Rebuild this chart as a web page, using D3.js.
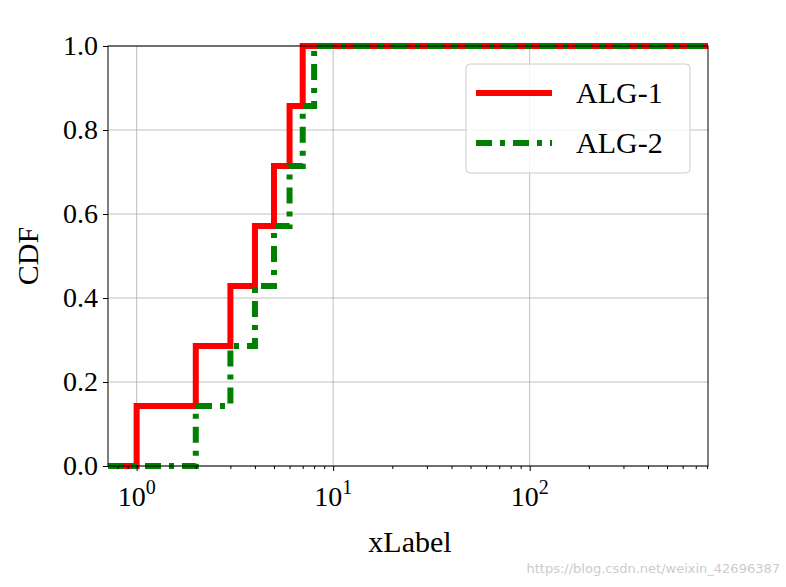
<!DOCTYPE html><html><head><script src="https://cdn.jsdelivr.net/npm/d3@7"></script>
<style>body{margin:0;background:#fff}</style></head><body><svg id="c" width="786" height="587"></svg><script>
const alg1X=[0.715,1,2,3,4,5,6,7,808];
const alg2X=[0.715,2,3,4,5,6,7,8,808];
const stepY=[0,1/7,2/7,3/7,4/7,5/7,6/7,1,1];
const yTicks=[0,0.2,0.4,0.6,0.8,1.0];
const xTicks=[1,10,100];
const series=[{name:"ALG-1",xs:alg1X,color:"red",dash:null,w:6},{name:"ALG-2",xs:alg2X,color:"green",dash:"16,8,5,8",w:6}];
const svg=d3.select("#c");
const L=108,R=708,T=46,B=466;
const x=d3.scaleLog().domain([0.715,808]).range([L,R]);
const y=d3.scaleLinear().domain([0,1]).range([B,T]);
const font="Liberation Serif, Times New Roman, serif";
const g=svg.append("g");
xTicks.forEach(t=>g.append("line").attr("x1",x(t)).attr("x2",x(t)).attr("y1",T).attr("y2",B).attr("stroke","#b0b0b0").attr("stroke-width",0.8));
yTicks.forEach(t=>g.append("line").attr("x1",L).attr("x2",R).attr("y1",y(t)).attr("y2",y(t)).attr("stroke","#b0b0b0").attr("stroke-width",0.8));
svg.append("clipPath").attr("id","cp").append("rect").attr("x",L).attr("y",T-3).attr("width",R-L).attr("height",B-T+6);
series.forEach(s=>{
  const pts=s.xs.map((v,i)=>[v,stepY[i]]);
  const line=d3.line().x(d=>x(d[0])).y(d=>y(d[1])).curve(d3.curveStepAfter);
  svg.append("path").attr("d",line(pts)).attr("fill","none").attr("stroke",s.color).attr("stroke-width",s.w).attr("stroke-dasharray",s.dash).attr("clip-path","url(#cp)");
});
svg.append("rect").attr("x",L).attr("y",T).attr("width",R-L).attr("height",B-T).attr("fill","none").attr("stroke","#000").attr("stroke-width",1);
const xa=svg.append("g").attr("transform",`translate(0,${B})`).call(d3.axisBottom(x).tickValues(xTicks).tickFormat("").tickSize(5));
const minor=[];[0.1,1,10,100].forEach(d=>{for(let k=2;k<10;k++){const v=d*k;if(v>0.715&&v<808)minor.push(v);}});
svg.append("g").attr("transform",`translate(0,${B})`).call(d3.axisBottom(x).tickValues(minor).tickFormat("").tickSize(3)).select(".domain").remove();
xa.select(".domain").remove();
xTicks.forEach((t,i)=>{
  const tx=svg.append("text").attr("x",x(t)).attr("y",B+40).attr("text-anchor","middle").attr("font-family",font).attr("font-size",28);
  tx.append("tspan").text("10");
  tx.append("tspan").attr("dy",-12).attr("font-size",20).text(i);
});
const ya=svg.append("g").attr("transform",`translate(${L},0)`).call(d3.axisLeft(y).tickValues(yTicks).tickFormat(d3.format(".1f")).tickSize(5));
ya.select(".domain").remove();
ya.selectAll("text").attr("font-family",font).attr("font-size",28).attr("fill","#000").attr("dx",-2);
svg.append("text").attr("x",410).attr("y",552).attr("text-anchor","middle").attr("font-family",font).attr("font-size",30).text("xLabel");
svg.append("text").attr("transform","translate(38,256) rotate(-90)").attr("text-anchor","middle").attr("font-family",font).attr("font-size",30).text("CDF");
const lg=svg.append("g");
lg.append("rect").attr("x",466).attr("y",64).attr("width",224).attr("height",109).attr("rx",4).attr("fill","#fff").attr("fill-opacity",0.8).attr("stroke","#ccc");
series.forEach((s,i)=>{
  const yy=93+i*50;
  lg.append("line").attr("x1",476).attr("x2",552).attr("y1",yy).attr("y2",yy).attr("stroke",s.color).attr("stroke-width",s.w).attr("stroke-dasharray",s.dash);
  lg.append("text").attr("x",576).attr("y",yy+10).attr("font-family",font).attr("font-size",30).text(s.name);
});
svg.append("text").attr("x",780).attr("y",573).attr("text-anchor","end").attr("font-family","DejaVu Sans, sans-serif").attr("font-size",13).attr("fill","#ccc").text("https://blog.csdn.net/weixin_42696387");
</script></body></html>
